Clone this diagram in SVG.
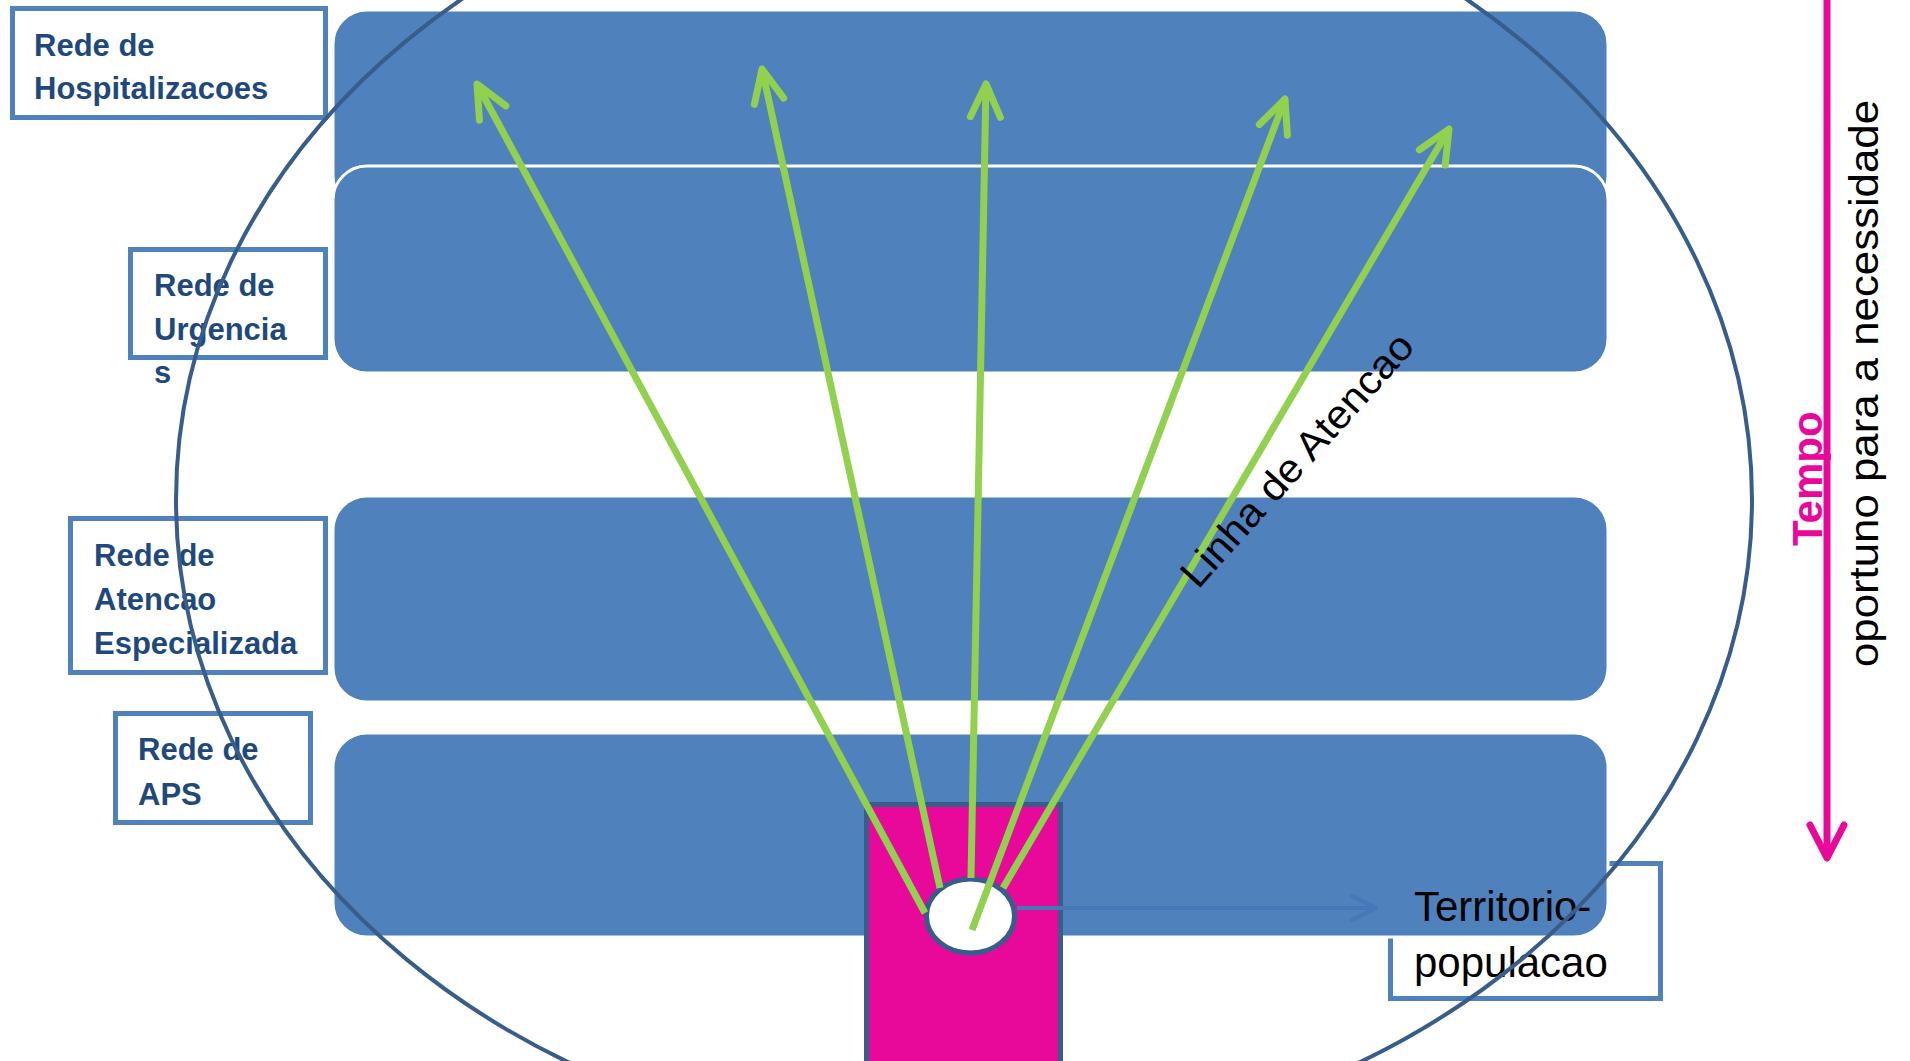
<svg xmlns="http://www.w3.org/2000/svg" width="1910" height="1061" viewBox="0 0 1910 1061">
  <style>
    .band { fill: #4f81bd; stroke: #ffffff; stroke-width: 3; }
    .lbl { fill: #ffffff; stroke: #4f81bd; stroke-width: 5; }
    .lt { font-family: "Liberation Sans", Arial, sans-serif; font-weight: bold; font-size: 31px; fill: #1f497d; }
    .bt { font-family: "Liberation Sans", Arial, sans-serif; font-size: 42px; fill: #000000; }
    .green { fill: none; stroke: #92d050; stroke-width: 7; marker-end: url(#ga); }
  </style>
  <defs>
    <marker id="ga" markerUnits="userSpaceOnUse" markerWidth="80" markerHeight="80" viewBox="-40 -40 80 80" refX="0" refY="0" orient="auto" overflow="visible">
      <path d="M-33,-15 L0,0 L-33,15" fill="none" stroke="#92d050" stroke-width="7" stroke-linecap="round" stroke-linejoin="round"/>
    </marker>
    <marker id="ma" markerUnits="userSpaceOnUse" markerWidth="80" markerHeight="80" viewBox="-40 -40 80 80" refX="0" refY="0" orient="auto" overflow="visible">
      <path d="M-33,-17 L0,0 L-33,17" fill="none" stroke="#e8099a" stroke-width="7" stroke-linecap="round" stroke-linejoin="round"/>
    </marker>
    <marker id="ba" markerUnits="userSpaceOnUse" markerWidth="60" markerHeight="60" viewBox="-30 -30 60 60" refX="0" refY="0" orient="auto" overflow="visible">
      <path d="M-24,-12 L0,0 L-24,12" fill="none" stroke="#4677b8" stroke-width="4" stroke-linecap="round" stroke-linejoin="round"/>
    </marker>
  </defs>

  <g id="territorio">
    <rect class="lbl" x="1390.5" y="863.5" width="270" height="135"/>
  </g>

  <g id="bands">
    <rect id="band-hosp" class="band" x="333" y="10" width="1275" height="200" rx="34" ry="34"/>
    <rect id="band-urg" class="band" x="333" y="166" width="1275" height="207" rx="34" ry="34"/>
    <rect id="band-esp" class="band" x="333" y="496" width="1275" height="206" rx="34" ry="34"/>
    <rect id="band-aps" class="band" x="333" y="733" width="1275" height="204" rx="34" ry="34"/>
  </g>

  <g id="label-hosp">
    <rect class="lbl" x="12.5" y="8.5" width="313" height="109"/>
    <text class="lt" x="34" y="56">Rede de</text>
    <text class="lt" x="34" y="99">Hospitalizacoes</text>
  </g>
  <g id="label-urg">
    <rect class="lbl" x="130.5" y="249.5" width="195" height="108"/>
    <text class="lt" x="154" y="296">Rede de</text>
    <text class="lt" x="154" y="340">Urgencia</text>
    <text class="lt" x="154" y="383">s</text>
  </g>
  <g id="label-esp">
    <rect class="lbl" x="70.5" y="518.5" width="255" height="154"/>
    <text class="lt" x="94" y="566">Rede de</text>
    <text class="lt" x="94" y="610">Atencao</text>
    <text class="lt" x="94" y="654">Especializada</text>
  </g>
  <g id="label-aps">
    <rect class="lbl" x="115.5" y="713.5" width="195" height="109"/>
    <text class="lt" x="138" y="760">Rede de</text>
    <text class="lt" x="138" y="805">APS</text>
  </g>

  <g id="territorio-box">
    <rect x="866.5" y="804.5" width="194" height="270" fill="#e8099a" stroke="#385d8a" stroke-width="5"/>
  </g>
  <g id="origem">
    <ellipse cx="970.5" cy="916" rx="44" ry="37" fill="#ffffff" stroke="#385d8a" stroke-width="5"/>
  </g>

  <g id="connectors">
    <line x1="1017" y1="908" x2="1376" y2="908" stroke="#4677b8" stroke-width="4" marker-end="url(#ba)"/>
    <line class="green" x1="925" y1="913" x2="477" y2="84"/>
    <line class="green" x1="940" y1="888" x2="762" y2="69"/>
    <line class="green" x1="971" y1="878" x2="986" y2="84"/>
    <line class="green" x1="972" y1="930" x2="1285" y2="99"/>
    <line class="green" x1="1003" y1="888" x2="1449" y2="129"/>
    <line x1="1827" y1="-5" x2="1827" y2="858" stroke="#e8099a" stroke-width="7" marker-end="url(#ma)"/>
  </g>

  <g id="territorio-text">
    <text class="bt" x="1414" y="921">Territorio-</text>
    <text class="bt" x="1414" y="977">populacao</text>
  </g>

  <g id="linha">
    <text class="bt" transform="translate(1198,590) rotate(-48)" textLength="326" lengthAdjust="spacingAndGlyphs" style="font-size:40px">Linha de Atencao</text>
  </g>

  <g id="rede">
    <ellipse cx="964" cy="500" rx="788" ry="650" fill="none" stroke="#385d8a" stroke-width="4"/>
  </g>

  <g id="tempo">
    <text transform="translate(1822,546) rotate(-90)" font-family="Liberation Sans, Arial, sans-serif" font-weight="bold" font-size="42" fill="#e8099a">Tempo</text>
    <text transform="translate(1878,667) rotate(-90)" font-family="Liberation Sans, Arial, sans-serif" font-size="41" fill="#000000" textLength="567" lengthAdjust="spacingAndGlyphs">oportuno para a necessidade</text>
  </g>
</svg>
